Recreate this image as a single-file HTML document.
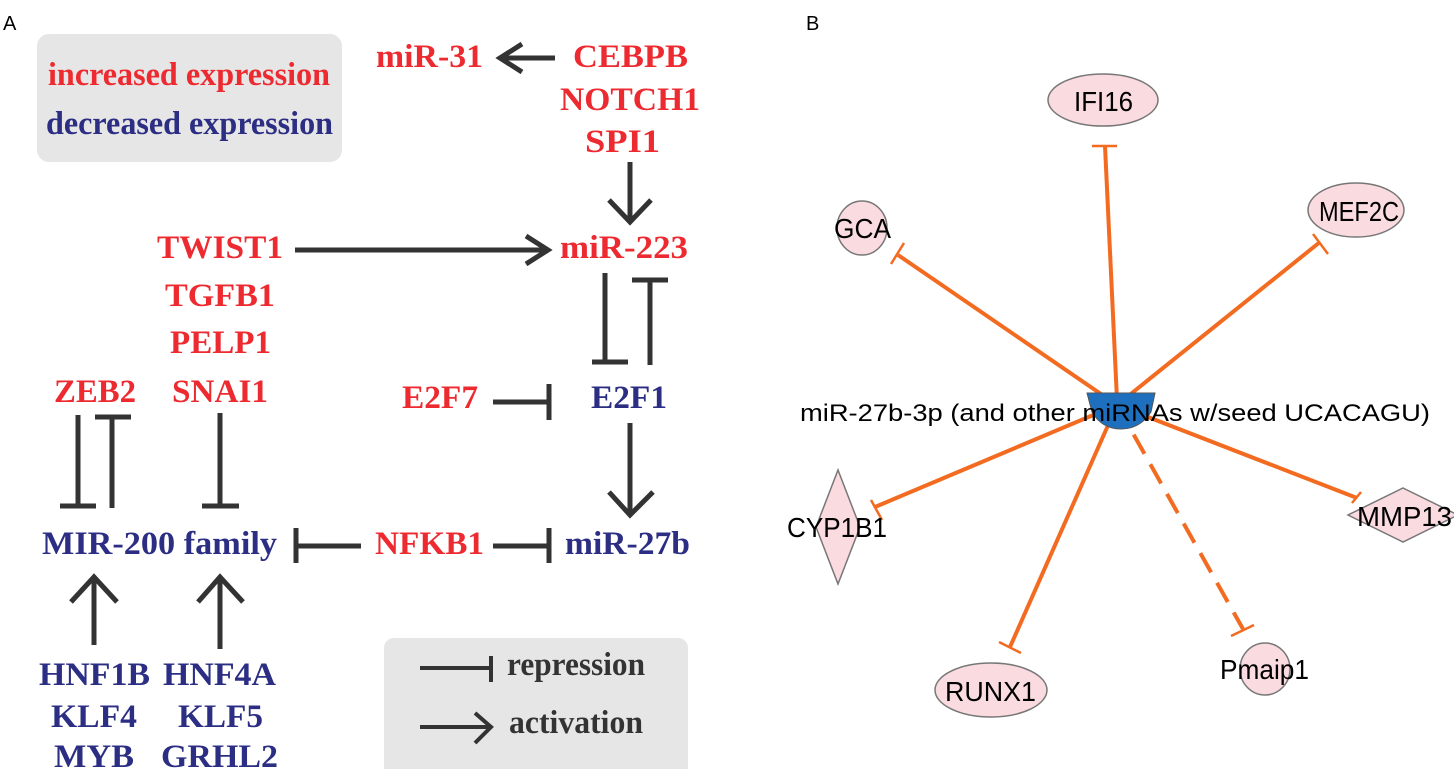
<!DOCTYPE html>
<html><head><meta charset="utf-8"><style>
html,body{margin:0;padding:0;background:#fff;}
svg{display:block;}
.r{fill:#ed2a30;font-family:"Liberation Serif",serif;font-weight:bold;font-size:33px;}
.b{fill:#2b2e83;font-family:"Liberation Serif",serif;font-weight:bold;font-size:33px;}
.k{fill:#333;font-family:"Liberation Serif",serif;font-weight:bold;font-size:33px;}
.s{fill:#000;font-family:"Liberation Sans",Arial,sans-serif;font-size:24px;}
.n{fill:#000;font-family:"Liberation Sans",Arial,sans-serif;font-size:28px;}
</style></head><body>
<svg width="1454" height="769" viewBox="0 0 1454 769" xmlns="http://www.w3.org/2000/svg">
<text x="3" y="30" class="s" style="font-size:20px">A</text>
<text x="806" y="30" class="s" style="font-size:20px">B</text>
<rect x="37" y="34" width="305" height="128" rx="12" fill="#e6e6e6"/>
<text x="48" y="85" class="r" textLength="282" lengthAdjust="spacingAndGlyphs">increased expression</text>
<text x="46" y="134" class="b" textLength="287" lengthAdjust="spacingAndGlyphs">decreased expression</text>
<g stroke="#333" stroke-width="5" fill="none">
<path d="M500 58H555M522 44L500 58L522 72"/>
<path d="M630 162V222M609 200L630 222L651 200"/>
<path d="M295 250H548M526 236L548 250L526 264"/>
<path d="M605 273V362M592 362H628M650 365V280M632 280H668"/>
<path d="M493 402H549M549 384V420"/>
<path d="M630 423V515M609 492L630 515L653 492"/>
<path d="M78 415V506M60 506H96M112 508V417M95 417H131"/>
<path d="M220 413V506M202 506H239"/>
<path d="M296 528V563M296 546H361"/>
<path d="M493 546H549M549 528V563"/>
<path d="M94 645V577M71 602L94 577L117 602"/>
<path d="M220 649V577M198 602L220 577L243 602"/>
</g>
<text x="376" y="67" class="r" textLength="107" lengthAdjust="spacingAndGlyphs">miR-31</text>
<text x="573" y="67" class="r" textLength="115" lengthAdjust="spacingAndGlyphs">CEBPB</text>
<text x="560" y="110" class="r" textLength="140" lengthAdjust="spacingAndGlyphs">NOTCH1</text>
<text x="585" y="152" class="r" textLength="75" lengthAdjust="spacingAndGlyphs">SPI1</text>
<text x="157" y="258" class="r" textLength="126" lengthAdjust="spacingAndGlyphs">TWIST1</text>
<text x="560" y="258" class="r" textLength="128" lengthAdjust="spacingAndGlyphs">miR-223</text>
<text x="165" y="306" class="r" textLength="110" lengthAdjust="spacingAndGlyphs">TGFB1</text>
<text x="170" y="353" class="r" textLength="101" lengthAdjust="spacingAndGlyphs">PELP1</text>
<text x="54" y="402" class="r" textLength="82" lengthAdjust="spacingAndGlyphs">ZEB2</text>
<text x="172" y="402" class="r" textLength="96" lengthAdjust="spacingAndGlyphs">SNAI1</text>
<text x="402" y="408" class="r" textLength="76" lengthAdjust="spacingAndGlyphs">E2F7</text>
<text x="591" y="408" class="b" textLength="76" lengthAdjust="spacingAndGlyphs">E2F1</text>
<text x="42" y="554" class="b" textLength="235" lengthAdjust="spacingAndGlyphs">MIR-200 family</text>
<text x="375" y="554" class="r" textLength="109" lengthAdjust="spacingAndGlyphs">NFKB1</text>
<text x="565" y="554" class="b" textLength="125" lengthAdjust="spacingAndGlyphs">miR-27b</text>
<text x="39" y="685" class="b" textLength="111" lengthAdjust="spacingAndGlyphs">HNF1B</text>
<text x="163" y="685" class="b" textLength="113" lengthAdjust="spacingAndGlyphs">HNF4A</text>
<text x="51" y="727" class="b" textLength="86" lengthAdjust="spacingAndGlyphs">KLF4</text>
<text x="178" y="727" class="b" textLength="85" lengthAdjust="spacingAndGlyphs">KLF5</text>
<text x="54" y="767" class="b" textLength="80" lengthAdjust="spacingAndGlyphs">MYB</text>
<text x="161" y="767" class="b" textLength="117" lengthAdjust="spacingAndGlyphs">GRHL2</text>
<rect x="384" y="638" width="304" height="140" rx="10" fill="#e6e6e6"/>
<g stroke="#333" stroke-width="4" fill="none">
<path d="M420 668H491M491 656V682"/>
<path d="M420 727H491M475 713L491 727L475 743"/>
</g>
<text x="507" y="675" class="k" textLength="138" lengthAdjust="spacingAndGlyphs">repression</text>
<text x="509" y="733" class="k" textLength="134" lengthAdjust="spacingAndGlyphs">activation</text>

<!-- Panel B -->
<g stroke="#f26b21" stroke-width="4" fill="none">
<path d="M1117 400L1105 146"/>
<path d="M1117 405L898 255"/>
<path d="M1117 405L1320 242"/>
<path d="M1117 405L875 507"/>
<path d="M1117 405L1357 498"/>
<path d="M1117 405L1010 647"/>
<path d="M1117 405L1243 629" stroke-dasharray="22,12"/>
</g>
<g stroke="#f26b21" stroke-width="2.5" fill="none">
<path d="M1092 146H1117"/>
<path d="M891 264L904 243"/>
<path d="M1313 234L1328 254"/>
<path d="M871 500L882 520"/>
<path d="M1352 503L1361 492"/>
<path d="M999 642L1021 653"/>
<path d="M1231 636L1254 625"/>
</g>
<g fill="#fadbe0" stroke="#777" stroke-width="1.5">
<ellipse cx="1103" cy="100" rx="55" ry="26"/>
<ellipse cx="862" cy="228" rx="25" ry="27"/>
<ellipse cx="1356" cy="210" rx="48" ry="27"/>
<polygon points="838,470 860,527 838,584 816,527"/>
<polygon points="1403,488 1458,515 1403,542 1348,515"/>
<ellipse cx="991" cy="690" rx="56" ry="27"/>
<ellipse cx="1265" cy="669" rx="25" ry="26"/>
</g>
<path d="M1087 393H1155L1151 412Q1140 429 1121 429Q1102 429 1092 412Z" fill="#1f6fbf" stroke="#555" stroke-width="1"/>
<text x="800" y="421" class="s" textLength="630" lengthAdjust="spacingAndGlyphs">miR-27b-3p (and other miRNAs w/seed UCACAGU)</text>
<text x="1074" y="111" class="n" textLength="59" lengthAdjust="spacingAndGlyphs">IFI16</text>
<text x="834" y="238" class="n" textLength="57" lengthAdjust="spacingAndGlyphs">GCA</text>
<text x="1319" y="221" class="n" textLength="80" lengthAdjust="spacingAndGlyphs">MEF2C</text>
<text x="787" y="537" class="n" textLength="100" lengthAdjust="spacingAndGlyphs">CYP1B1</text>
<text x="1357" y="526" class="n" textLength="95" lengthAdjust="spacingAndGlyphs">MMP13</text>
<text x="945" y="701" class="n" textLength="91" lengthAdjust="spacingAndGlyphs">RUNX1</text>
<text x="1220" y="679" class="n" textLength="89" lengthAdjust="spacingAndGlyphs">Pmaip1</text>
</svg>
</body></html>
